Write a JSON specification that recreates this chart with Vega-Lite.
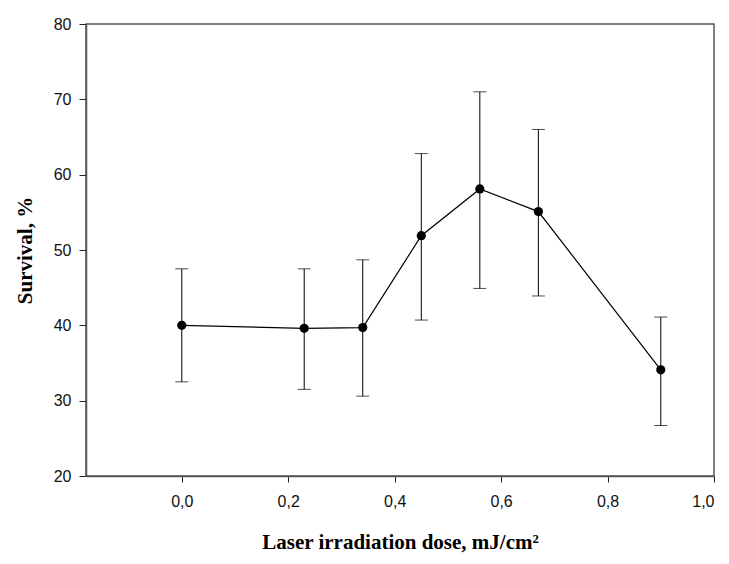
{
  "$schema": "https://vega.github.io/schema/vega-lite/v6.json",
  "autosize": {"type": "none"},
  "width": 628,
  "height": 452,
  "padding": {"left": 86, "top": 24, "right": 15, "bottom": 88},
  "background": "white",
  "config": {
    "view": {"stroke": "#555", "strokeWidth": 1.5},
    "axis": {
      "domainColor": "#555",
      "domainWidth": 1.5,
      "tickColor": "#222",
      "tickSize": 6,
      "grid": false,
      "labelFont": "Liberation Sans",
      "labelFontSize": 16,
      "labelColor": "#111",
      "titleFont": "Liberation Serif",
      "titleFontSize": 21,
      "titleFontWeight": "bold",
      "titleColor": "#000"
    }
  },
  "data": {
    "values": [
      {"dose": 0.0, "survival": 40.0, "lo": 32.5, "hi": 47.5},
      {"dose": 0.23, "survival": 39.6, "lo": 31.5, "hi": 47.5},
      {"dose": 0.34, "survival": 39.7, "lo": 30.6, "hi": 48.7},
      {"dose": 0.45, "survival": 51.9, "lo": 40.7, "hi": 62.8},
      {"dose": 0.56, "survival": 58.1, "lo": 44.9, "hi": 71.0},
      {"dose": 0.67, "survival": 55.1, "lo": 43.9, "hi": 66.0},
      {"dose": 0.9, "survival": 34.1, "lo": 26.7, "hi": 41.1}
    ]
  },
  "encoding": {
    "x": {
      "field": "dose",
      "type": "quantitative",
      "scale": {"domain": [-0.18, 1.0], "nice": false, "zero": false},
      "axis": {
        "title": "Laser irradiation dose, mJ/cm²",
        "values": [0, 0.2, 0.4, 0.6, 0.8, 1.0],
        "labelExpr": "replace(format(datum.value, '.1f'), '.', ',')",
        "labelFontSize": 16,
        "labelPadding": 11,
        "titlePadding": 22
      }
    }
  },
  "layer": [
    {
      "mark": {"type": "rule", "color": "#000", "strokeWidth": 1},
      "encoding": {
        "y": {"field": "lo", "type": "quantitative"},
        "y2": {"field": "hi"}
      }
    },
    {
      "mark": {"type": "tick", "orient": "horizontal", "color": "#000", "size": 13, "thickness": 1},
      "encoding": {"y": {"field": "lo", "type": "quantitative"}}
    },
    {
      "mark": {"type": "tick", "orient": "horizontal", "color": "#000", "size": 13, "thickness": 1},
      "encoding": {"y": {"field": "hi", "type": "quantitative"}}
    },
    {
      "mark": {"type": "line", "color": "#000", "strokeWidth": 1.2},
      "encoding": {
        "y": {
          "field": "survival",
          "type": "quantitative",
          "scale": {"domain": [20, 80], "nice": false, "zero": false},
          "axis": {
            "title": "Survival, %",
            "values": [20, 30, 40, 50, 60, 70, 80],
            "labelFontSize": 16,
            "labelPadding": 8,
            "titlePadding": 18,
            "tickSize": 7
          }
        }
      }
    },
    {
      "mark": {"type": "point", "filled": true, "color": "#000", "size": 85, "opacity": 1},
      "encoding": {"y": {"field": "survival", "type": "quantitative"}}
    }
  ]
}
